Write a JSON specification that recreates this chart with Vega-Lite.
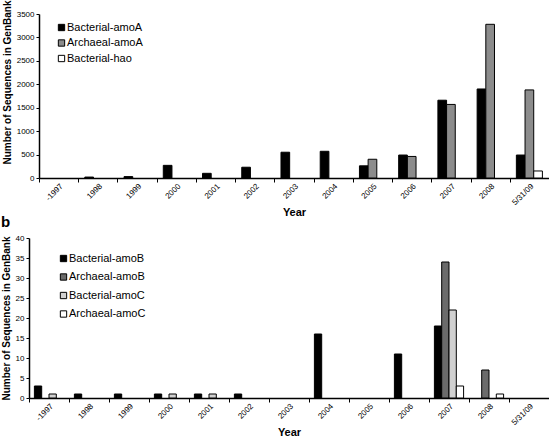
{
  "$schema": "https://vega.github.io/schema/vega-lite/v6.json",
  "padding": {"left": 1, "top": 0, "right": 0, "bottom": 0},
  "background": "white",
  "config": {
    "view": {"stroke": null},
    "font": "Liberation Sans",
    "axis": {"domainColor": "black", "tickColor": "black", "labelColor": "black", "titleColor": "black", "grid": false, "labelFont": "Liberation Sans", "titleFont": "Liberation Sans", "domainWidth": 1.5},
    "legend": {"labelFont": "Liberation Sans", "labelColor": "black"}
  },
  "spacing": -3,
  "resolve": {"scale": {"x": "independent", "y": "independent", "color": "independent", "xOffset": "independent"}, "legend": {"color": "independent"}},
  "datasets": {
    "a": [
      {"year": "1998", "gene": "Bacterial-amoA", "n": 20},
      {"year": "1999", "gene": "Bacterial-amoA", "n": 30},
      {"year": "2000", "gene": "Bacterial-amoA", "n": 270},
      {"year": "2001", "gene": "Bacterial-amoA", "n": 100},
      {"year": "2002", "gene": "Bacterial-amoA", "n": 230},
      {"year": "2003", "gene": "Bacterial-amoA", "n": 550},
      {"year": "2004", "gene": "Bacterial-amoA", "n": 570},
      {"year": "2005", "gene": "Bacterial-amoA", "n": 260},
      {"year": "2005", "gene": "Archaeal-amoA", "n": 400},
      {"year": "2006", "gene": "Bacterial-amoA", "n": 490},
      {"year": "2006", "gene": "Archaeal-amoA", "n": 460},
      {"year": "2007", "gene": "Bacterial-amoA", "n": 1660},
      {"year": "2007", "gene": "Archaeal-amoA", "n": 1570},
      {"year": "2008", "gene": "Bacterial-amoA", "n": 1900},
      {"year": "2008", "gene": "Archaeal-amoA", "n": 3280},
      {"year": "5/31/09", "gene": "Bacterial-amoA", "n": 490},
      {"year": "5/31/09", "gene": "Archaeal-amoA", "n": 1880},
      {"year": "5/31/09", "gene": "Bacterial-hao", "n": 150}
    ],
    "b": [
      {"year": "-1997", "gene": "Bacterial-amoB", "n": 3},
      {"year": "-1997", "gene": "Bacterial-amoC", "n": 1},
      {"year": "1998", "gene": "Bacterial-amoB", "n": 1},
      {"year": "1999", "gene": "Bacterial-amoB", "n": 1},
      {"year": "2000", "gene": "Bacterial-amoB", "n": 1},
      {"year": "2000", "gene": "Bacterial-amoC", "n": 1},
      {"year": "2001", "gene": "Bacterial-amoB", "n": 1},
      {"year": "2001", "gene": "Bacterial-amoC", "n": 1},
      {"year": "2002", "gene": "Bacterial-amoB", "n": 1},
      {"year": "2004", "gene": "Bacterial-amoB", "n": 16},
      {"year": "2006", "gene": "Bacterial-amoB", "n": 11},
      {"year": "2007", "gene": "Bacterial-amoB", "n": 18},
      {"year": "2007", "gene": "Archaeal-amoB", "n": 34},
      {"year": "2007", "gene": "Bacterial-amoC", "n": 22},
      {"year": "2007", "gene": "Archaeal-amoC", "n": 3},
      {"year": "2008", "gene": "Archaeal-amoB", "n": 7},
      {"year": "2008", "gene": "Archaeal-amoC", "n": 1}
    ]
  },
  "vconcat": [
    {
      "width": 520,
      "height": 164,
      "data": {"name": "a"},
      "mark": {"type": "bar", "stroke": "black", "strokeWidth": 1},
      "encoding": {
        "x": {
          "field": "year", "type": "nominal", "title": "Year",
          "scale": {"domain": ["-1997","1998","1999","2000","2001","2002","2003","2004","2005","2006","2007","2008","5/31/09"], "paddingInner": 0, "paddingOuter": 0, "range": [10, 520]},
          "axis": {"labelAngle": -45, "labelFontSize": 8, "tickSize": 4, "tickBand": "extent", "titleFontSize": 11, "titleFontWeight": "bold", "titlePadding": 0, "labelPadding": 0}
        },
        "xOffset": {"field": "gene", "type": "nominal", "scale": {"domain": ["Bacterial-amoA", "Archaeal-amoA", "Bacterial-hao"], "paddingInner": 0, "paddingOuter": 0.76}},
        "y": {
          "field": "n", "type": "quantitative", "title": "Number of Sequences in GenBank",
          "scale": {"domain": [0, 3500], "nice": false},
          "axis": {"values": [0,500,1000,1500,2000,2500,3000,3500], "format": "d", "offset": -10, "labelFontSize": 8, "tickSize": 3, "titleFontSize": 10, "titleFontWeight": "bold", "titlePadding": 4, "titleY": 68}
        },
        "color": {
          "field": "gene", "type": "nominal",
          "scale": {"domain": ["Bacterial-amoA", "Archaeal-amoA", "Bacterial-hao"], "range": ["#000000", "#8c8c8c", "#ffffff"]},
          "legend": {"orient": "none", "legendX": 27, "legendY": 8, "title": null, "symbolType": "square", "symbolSize": 40, "symbolStrokeColor": "black", "symbolStrokeWidth": 1, "labelFontSize": 11, "rowPadding": 3.5, "labelOffset": 0}
        }
      }
    },
    {
      "width": 520,
      "height": 160,
      "title": {"text": "b", "anchor": "start", "frame": "bounds", "fontSize": 15, "fontWeight": "bold", "offset": 4, "color": "black"},
      "data": {"name": "b"},
      "mark": {"type": "bar", "stroke": "black", "strokeWidth": 1},
      "encoding": {
        "x": {
          "field": "year", "type": "nominal", "title": "Year",
          "scale": {"domain": ["-1997","1998","1999","2000","2001","2002","2003","2004","2005","2006","2007","2008","5/31/09"], "paddingInner": 0, "paddingOuter": 0},
          "axis": {"labelAngle": -45, "labelFontSize": 8, "tickSize": 4, "tickBand": "extent", "titleFontSize": 11, "titleFontWeight": "bold", "titlePadding": 0, "labelPadding": 0}
        },
        "xOffset": {"field": "gene", "type": "nominal", "scale": {"domain": ["Bacterial-amoB", "Archaeal-amoB", "Bacterial-amoC", "Archaeal-amoC"], "paddingInner": 0, "paddingOuter": 0.74}},
        "y": {
          "field": "n", "type": "quantitative", "title": "Number of Sequences in GenBank",
          "scale": {"domain": [0, 40], "nice": false},
          "axis": {"values": [0,5,10,15,20,25,30,35,40], "labelFontSize": 8, "tickSize": 3, "titleFontSize": 10, "titleFontWeight": "bold", "titlePadding": 4}
        },
        "color": {
          "field": "gene", "type": "nominal",
          "scale": {"domain": ["Bacterial-amoB", "Archaeal-amoB", "Bacterial-amoC", "Archaeal-amoC"], "range": ["#000000", "#6b6b6b", "#d0d0d0", "#ffffff"]},
          "legend": {"orient": "none", "legendX": 29, "legendY": 15, "title": null, "symbolType": "square", "symbolSize": 40, "symbolStrokeColor": "black", "symbolStrokeWidth": 1, "labelFontSize": 11, "rowPadding": 6.5, "labelOffset": 0}
        }
      }
    }
  ]
}
